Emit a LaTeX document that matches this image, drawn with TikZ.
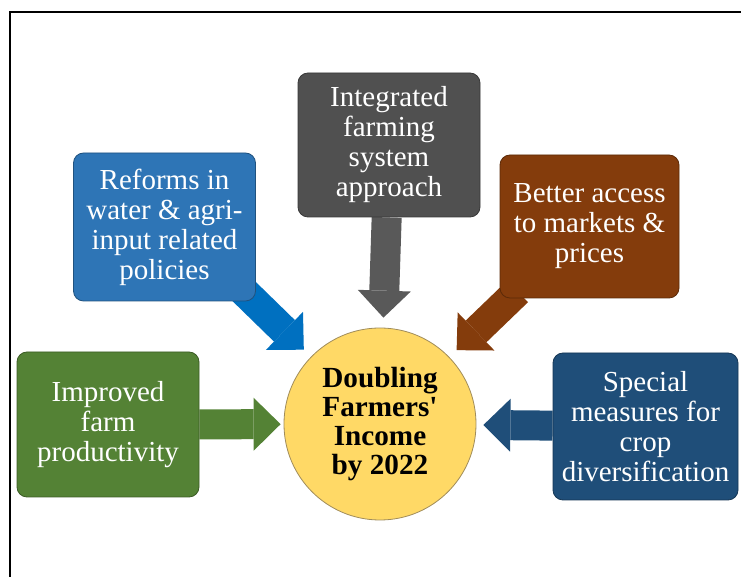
\documentclass[tikz,border=0pt]{standalone}
\usepackage{fontspec}
\setmainfont{Liberation Serif}
\newfontfamily\goalfont{Liberation Serif}
\usepackage{tikz}
\usetikzlibrary{arrows.meta,calc}
\pgfdeclarelayer{bg}
\pgfsetlayers{bg,main}
\definecolor{reformblue}{HTML}{2E75B6}
\definecolor{reformarrow}{HTML}{0070C0}
\definecolor{systemgray}{HTML}{505050}
\definecolor{systemarrow}{HTML}{595959}
\definecolor{marketbrown}{HTML}{843C0C}
\definecolor{farmgreen}{HTML}{548235}
\definecolor{cropblue}{HTML}{1F4E79}
\definecolor{goalyellow}{HTML}{FFD966}
\definecolor{goalrim}{HTML}{A08C5A}
\tikzset{
  ideabox/.style={draw=#1!70!black, fill=#1, rounded corners=5pt, text=white, align=center,
    inner sep=2pt, font=\fontsize{14.5}{15}\selectfont},
  bigarrow/.style={draw=#1, line width=15pt,
    -{Triangle[width=26.5pt,length=13.5pt,line width'=0pt]}},
}

\begin{document}
\begin{tikzpicture}[x=0.5pt,y=-0.5pt]
        \useasboundingbox (0,0) rectangle (741,577);
        \draw[line width=1pt] (10,577) -- (10,12) -- (741,12);
        \node[circle, fill=goalyellow, draw=goalrim, minimum size=96pt, inner sep=0pt, align=center,
          font=\goalfont\bfseries\fontsize{14.6}{14.4}\selectfont] (goal) at (380,424) {Doubling\\Farmers'\\Income\\by 2022};
        \node[ideabox=reformblue, minimum width=91pt, minimum height=74pt] (reforms) at (164.5,227) {Reforms in\\water \& agri-\\input related\\policies};
        \node[ideabox=systemgray, minimum width=91pt, minimum height=72pt] (system) at (389,145) {Integrated\\farming\\system\\approach};
        \node[ideabox=marketbrown, minimum width=89.5pt, minimum height=71.5pt] (markets) at (589.5,226.5) {Better access\\to markets \&\\prices};
        \node[ideabox=farmgreen, minimum width=91pt, minimum height=72.5pt] (farm) at (108,424.5) {Improved\\farm\\productivity};
        \node[ideabox=cropblue, minimum width=92.5pt, minimum height=73.5pt] (crop) at (645.5,426.5) {Special\\measures for\\crop\\diversification};
        \begin{pgfonlayer}{bg}
        \draw[bigarrow=reformarrow, shorten >=5pt] ([shift={(-16,-14)}]reforms.south east) -- (goal);
        \draw[bigarrow=systemarrow, shorten >=5pt] (system) -- (goal);
        \draw[bigarrow=marketbrown, shorten >=5pt] ([shift={(18,-7)}]markets.south west) -- (goal);
        \draw[bigarrow=farmgreen, shorten >=1.5pt] (farm) -- (goal);
        \draw[bigarrow=cropblue, shorten >=3.5pt] (crop) -- (goal);
        \end{pgfonlayer}
      \end{tikzpicture}
\end{document}
